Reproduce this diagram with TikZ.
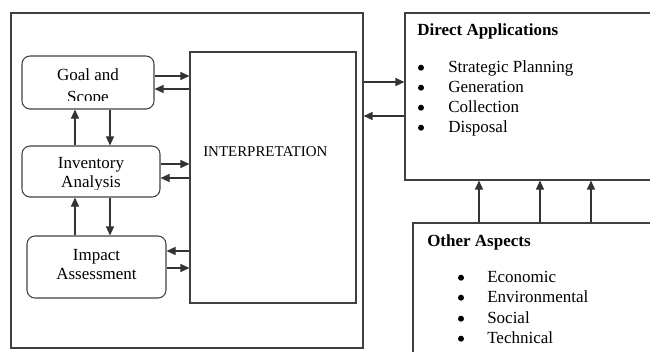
\documentclass[tikz,border=0pt]{standalone}
\usepackage{fontspec}
\setmainfont{Liberation Serif}
\usetikzlibrary{arrows.meta}
\begin{document}
\begin{tikzpicture}[x=0.75pt,y=-0.75pt,
  rbox/.style={draw=black!75, line width=0.8pt, rounded corners=6pt, rectangle, inner sep=0pt},
  sbox/.style={draw=black!75, line width=0.8pt, rectangle, inner sep=0pt},
  arr/.style={draw=black!80, line width=0.8pt, -{Triangle[length=6.75pt,width=6pt]}},
  txt/.style={font=\fontsize{12.75}{15}\selectfont, inner sep=0pt, anchor=base},
  btxt/.style={txt, font=\fontsize{12.75}{15}\selectfont\bfseries, anchor=base west},
  ltxt/.style={txt, anchor=base west},
  bul/.style={circle, fill=black, inner sep=0pt, minimum size=4.5pt}
]
\useasboundingbox (0,0) rectangle (650,351);
\clip (0,0) rectangle (650,351);

% boxes
\node[sbox, minimum width=264pt, minimum height=251.25pt] (outer) at (187,180.5) {};
\node[sbox, minimum width=124.5pt, minimum height=188.25pt] (interp) at (273,177.5) {};
\node[rbox, minimum width=99pt, minimum height=39.75pt] (goal) at (88,82.5) {};
\node[rbox, minimum width=103.5pt, minimum height=38.25pt] (inv) at (91,171.5) {};
\node[rbox, minimum width=104.25pt, minimum height=46.5pt] (imp) at (96.5,267) {};
\node[sbox, minimum width=195pt, minimum height=125.25pt] (da) at (535,96.5) {};
\node[sbox, minimum width=189pt, minimum height=106.5pt] (oa) at (539,294) {};

% texts in the rounded boxes (clipped like text boxes)
\begin{scope}
  \clip (22,56) rectangle (154,100);
  \node[txt] (goalt1) at (88,80) {Goal and};
  \node[txt] (goalt2) at (88,102.5) {Scope};
\end{scope}
\begin{scope}
  \clip (22,146) rectangle (160,189.5);
  \node[txt] (invt1) at (91,168.3) {Inventory};
  \node[txt] (invt2) at (91,187) {Analysis};
\end{scope}
\node[txt] (impt1) at (96.5,260.7) {Impact};
\node[txt] (impt2) at (96.5,279) {Assessment};

\node[ltxt, font=\fontsize{11.2}{13}\selectfont] (interpt) at (203,156.7) {INTERPRETATION};

% Direct applications
\node[btxt] (dat) at (417,35) {Direct Applications};
\node[bul] (db1) at (421,67.7) {};
\node[bul] (db2) at (421,87.7) {};
\node[bul] (db3) at (421,107.7) {};
\node[bul] (db4) at (421,127.7) {};
\node[ltxt] (d1) at (448,72) {Strategic Planning};
\node[ltxt] (d2) at (448,92) {Generation};
\node[ltxt] (d3) at (448,112) {Collection};
\node[ltxt] (d4) at (448,132) {Disposal};

% Other aspects
\node[btxt] (oat) at (427,246) {Other Aspects};
\node[bul] (ob1) at (461,277.7) {};
\node[bul] (ob2) at (461,297.7) {};
\node[bul] (ob3) at (461,318.7) {};
\node[bul] (ob4) at (461,338.7) {};
\node[ltxt] (o1) at (487,282) {Economic};
\node[ltxt] (o2) at (487,302) {Environmental};
\node[ltxt] (o3) at (487,323) {Social};
\node[ltxt] (o4) at (487,343) {Technical};

% helper coordinates
\coordinate (ya) at (0,76);
\coordinate (yb) at (0,89);
\coordinate (yc) at (0,164);
\coordinate (yd) at (0,178);
\coordinate (ye) at (0,251);
\coordinate (yf) at (0,268);
\coordinate (yg) at (0,82);
\coordinate (yh) at (0,116);
\coordinate (xa) at (75,0);
\coordinate (xb) at (110,0);
\coordinate (xc) at (479,0);
\coordinate (xd) at (540,0);
\coordinate (xe) at (591,0);

% horizontal arrows to/from interpretation
\draw[arr] (goal.east |- ya) -- (interp.west |- ya);
\draw[arr] (interp.west |- yb) -- (goal.east |- yb);
\draw[arr] (inv.east |- yc) -- (interp.west |- yc);
\draw[arr] (interp.west |- yd) -- (inv.east |- yd);
\draw[arr] (interp.west |- ye) -- (imp.east |- ye);
\draw[arr] (imp.east |- yf) -- (interp.west |- yf);

% vertical arrows between stages
\draw[arr] (inv.north -| xa) -- (goal.south -| xa);
\draw[arr] (goal.south -| xb) -- (inv.north -| xb);
\draw[arr] (imp.north -| xa) -- (inv.south -| xa);
\draw[arr] (inv.south -| xb) -- (imp.north -| xb);

% outer <-> direct applications
\draw[arr] (outer.east |- yg) -- (da.west |- yg);
\draw[arr] (da.west |- yh) -- (outer.east |- yh);

% other aspects -> direct applications
\draw[arr] (oa.north -| xc) -- (da.south -| xc);
\draw[arr] (oa.north -| xd) -- (da.south -| xd);
\draw[arr] (oa.north -| xe) -- (da.south -| xe);
\end{tikzpicture}
\end{document}
